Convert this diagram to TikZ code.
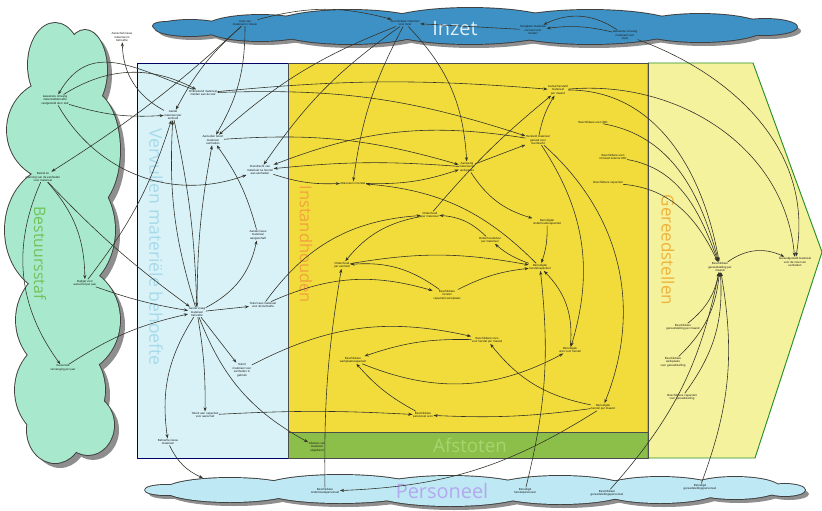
\documentclass[tikz,border=0pt]{standalone}
\usepackage{fontspec}
\setmainfont{Liberation Sans}
\newfontfamily\regiofont{Open Sans}
\usetikzlibrary{arrows.meta}
\definecolor{inzetblauw}{HTML}{3E91C4}
\definecolor{stafgroen}{HTML}{A8E8CC}
\definecolor{vervulblauw}{HTML}{D8F2F8}
\definecolor{instandgeel}{HTML}{F1DC3C}
\definecolor{afstootgroen}{HTML}{8CBF4A}
\definecolor{gereedgeel}{HTML}{F5F29E}
\definecolor{persblauw}{HTML}{BDE8F4}
\definecolor{schaduw}{HTML}{8E8E8E}
\definecolor{lijn}{HTML}{33332A}
\definecolor{tekststaf}{HTML}{72C25C}
\definecolor{tekstvervul}{HTML}{A6DAEA}
\definecolor{tekstinstand}{HTML}{F2A23E}
\definecolor{tekstgereed}{HTML}{EFB23A}
\definecolor{tekstafstoot}{HTML}{A6D46E}
\definecolor{tekstpers}{HTML}{B4A8EE}
\tikzset{
  lbl/.style={font=\fontsize{2.5}{3}\selectfont, align=center, inner sep=0.4pt, text=black!90},
  flow/.style={->, line width=0.5pt, draw=lijn},
  regio/.style={font=\regiofont\fontsize{#1}{#1}\selectfont, inner sep=0pt}
}
\begin{document}
\begin{tikzpicture}[x=0.03cm,y=-0.03cm,line cap=round,line join=round,>={Stealth[length=3.6pt,width=2.6pt]}]
\useasboundingbox (0,0) rectangle (822,511);
\foreach \cx/\cy/\rx/\ry in {55/65/27/42,85/70/22/40,55/130/48/50,88/150/32/60,60/230/55/65,68/320/52/55,60/390/45/50,55/430/28/33,88/425/26/30}
  \fill[schaduw] (\cx+5,\cy+5) ellipse ({\rx} and {\ry});
\foreach \cx/\cy/\rx/\ry in {55/65/27/42,85/70/22/40,55/130/48/50,88/150/32/60,60/230/55/65,68/320/52/55,60/390/45/50,55/430/28/33,88/425/26/30}
  \draw[black!75,line width=1.6pt] (\cx,\cy) ellipse ({\rx} and {\ry});
\foreach \cx/\cy/\rx/\ry in {55/65/27/42,85/70/22/40,55/130/48/50,88/150/32/60,60/230/55/65,68/320/52/55,60/390/45/50,55/430/28/33,88/425/26/30}
  \fill[stafgroen] (\cx,\cy) ellipse ({\rx} and {\ry});
\foreach \cx/\cy/\rx/\ry in {165/26/12/4,190/28/35/8,260/28/55/13,350/27/80/17,470/26/90/18,590/27/90/17,700/28/65/14,765/27/32/8}
  \fill[schaduw] (\cx+4,\cy+4) ellipse ({\rx} and {\ry});
\foreach \cx/\cy/\rx/\ry in {165/26/12/4,190/28/35/8,260/28/55/13,350/27/80/17,470/26/90/18,590/27/90/17,700/28/65/14,765/27/32/8}
  \draw[black!75,line width=1.6pt] (\cx,\cy) ellipse ({\rx} and {\ry});
\foreach \cx/\cy/\rx/\ry in {165/26/12/4,190/28/35/8,260/28/55/13,350/27/80/17,470/26/90/18,590/27/90/17,700/28/65/14,765/27/32/8}
  \fill[inzetblauw] (\cx,\cy) ellipse ({\rx} and {\ry});
\foreach \cx/\cy/\rx/\ry in {165/490/20/5,230/490/65/12,340/489/80/14,450/491/80/15,560/490/70/14,660/490/60/13,735/488/45/11,785/490/20/6}
  \fill[schaduw] (\cx+4,\cy+4) ellipse ({\rx} and {\ry});
\foreach \cx/\cy/\rx/\ry in {165/490/20/5,230/490/65/12,340/489/80/14,450/491/80/15,560/490/70/14,660/490/60/13,735/488/45/11,785/490/20/6}
  \draw[black!75,line width=1.6pt] (\cx,\cy) ellipse ({\rx} and {\ry});
\foreach \cx/\cy/\rx/\ry in {165/490/20/5,230/490/65/12,340/489/80/14,450/491/80/15,560/490/70/14,660/490/60/13,735/488/45/11,785/490/20/6}
  \fill[persblauw] (\cx,\cy) ellipse ({\rx} and {\ry});
\filldraw[fill=vervulblauw,draw=black!60!blue,line width=0.8pt] (137,63) rectangle (288,458);
\filldraw[fill=instandgeel,draw=black!70,line width=0.8pt] (288,63) rectangle (648,432);
\filldraw[fill=afstootgroen,draw=black!70,line width=0.8pt] (288,432) rectangle (648,458);
\filldraw[fill=gereedgeel,draw=black!40!green!70!gray,line width=0.8pt] (648,63) -- (753,63) -- (822,252) -- (755,458) -- (648,458) -- cycle;
\draw[black!70,line width=0.8pt] (648,63) -- (648,458);
\node[regio=17, text=white!85!inzetblauw] (tinzet) at (455,28) {Inzet};
\node[regio=13.5, text=tekststaf, rotate=-90] (tstaf) at (40,253) {Bestuursstaf};
\node[regio=15, text=tekstvervul, rotate=-90] (tvervul) at (156,247) {Vervullen materiële behoefte};
\node[regio=14, text=tekstinstand, rotate=-90] (tinstand) at (306,244) {Instandhouden};
\node[regio=14.5, text=tekstgereed, rotate=-90] (tgereed) at (668,250) {Gereedstellen};
\node[regio=16, text=tekstafstoot] (tafstoot) at (470,445) {Afstoten};
\node[regio=17, text=tekstpers] (tpers) at (442,491) {Personeel};
\node[lbl] (top1) at (122,37) {Aanschaf nieuw\\materieel in\\behoefte};
\node[lbl] (inz1) at (245,23) {Inzet van\\materieel in missie};
\node[lbl] (inz2) at (405,23) {Beschikbaar materieel\\voor inzet};
\node[lbl] (inz3) at (533,30) {Terugkeer materieel\\na inzet voor\\herstel};
\node[lbl] (inz4) at (625,35) {Gewenste omvang\\materieel voor\\inzet};
\node[lbl] (bst1) at (55,100) {Gewenste omvang\\materieelbehoefte\\vastgesteld door staf};
\node[lbl] (bst2) at (43,177) {Beleid en\\planning van de eenheden\\voor materieel};
\node[lbl] (bst3) at (85,283) {Budget voor\\aanschaf per jaar};
\node[lbl] (bst4) at (63,368) {Gewenste\\vervanging per jaar};
\node[lbl] (vmb1) at (203,93) {Ontbrekend materieel\\melden aan de staf};
\node[lbl] (vmb2) at (173,115) {Aantal\\materieel per\\eenheid};
\node[lbl] (vmb3) at (213,140) {Aanvullen tekort\\materieel\\eenheden};
\node[lbl] (vmb4) at (260,170) {Overdracht van\\materieel na herstel\\aan eenheden};
\node[lbl] (vmb5) at (258,235) {Aantal nieuw\\materieel\\aangeschaft};
\node[lbl] (vmb6) at (197,312) {Aantal vraag\\materieel\\behoefte};
\node[lbl] (vmb7) at (263,305) {Tekort aan materieel\\voor de behoefte};
\node[lbl] (vmb8) at (242,370) {Tekort\\materieel voor\\eenheden in\\gebruik};
\node[lbl] (vmb9) at (205,415) {Tekort aan capaciteit\\voor aanschaf};
\node[lbl] (vmb10) at (168,442) {Behoefte nieuw\\materieel};
\node[lbl] (afs1) at (317,447) {Afstoten van\\materieel\\uitgediend};
\node[lbl] (ins1) at (353,183) {Materieel in herstel};
\node[lbl] (ins2) at (467,167) {Aanwezig\\materieel in\\werkplaats};
\node[lbl] (ins3) at (538,140) {Hersteld materieel\\gereed voor\\overdracht};
\node[lbl] (ins4) at (558,90) {Aantal hersteld\\materieel\\per maand};
\node[lbl] (ins5) at (593,122) {Beschikbare uren IOD};
\node[lbl] (ins6) at (613,157) {Beschikbare uren\\inclusief externe IOD};
\node[lbl] (ins7) at (608,183) {Beschikbare capaciteit};
\node[lbl] (ins8) at (430,215) {Onderhoud\\per materieel};
\node[lbl] (ins9) at (547,222) {Benodigde\\onderhoudscapaciteit};
\node[lbl] (ins10) at (490,240) {Onderhoudsduur\\per materieel};
\node[lbl] (ins11) at (540,267) {Benodigde\\herstelcapaciteit};
\node[lbl] (ins12) at (447,295) {Beschikbare\\herstel\\capaciteit werkplaats};
\node[lbl] (ins13) at (342,265) {Onderhoud\\per eenheid};
\node[lbl] (ins14) at (487,340) {Beschikbare uren\\voor herstel per maand};
\node[lbl] (ins15) at (570,350) {Benodigde\\uren voor herstel};
\node[lbl] (ins16) at (353,360) {Beschikbare\\werkplaatscapaciteit};
\node[lbl] (ins17) at (603,407) {Benodigde\\herstel per maand};
\node[lbl] (ins18) at (423,415) {Beschikbare\\personeel uren};
\node[lbl] (gst1) at (720,267) {Beschikbare\\gereedstelling per\\maand};
\node[lbl] (gst2) at (795,262) {Gereedgesteld materieel\\voor de inzet van\\eenheden};
\node[lbl] (gst3) at (683,327) {Beschikbare\\gereedstelling per maand};
\node[lbl] (gst4) at (673,362) {Beschikbare\\werkplaats\\voor gereedstelling};
\node[lbl] (gst5) at (682,397) {Beschikbare capaciteit\\voor gereedstelling};
\node[lbl] (per1) at (325,491) {Beschikbare\\onderhoudspersoneel};
\node[lbl] (per2) at (525,491) {Benodigd\\herstelpersoneel};
\node[lbl] (per3) at (607,493) {Beschikbaar\\gereedstellingspersoneel};
\node[lbl] (per4) at (700,487) {Benodigd\\gereedstellingspersoneel};
\coordinate (persrand) at (203,478);
\draw[flow] (inz1) to[bend left=15] (inz2);
\draw[flow] (inz3) -- (inz2);
\draw[flow] (inz4) to[bend right=10] (inz3);
\draw[flow] (inz4) to[bend right=30] (inz3);
\draw[flow] (inz4) to[out=-20,in=80] (gst2);
\draw[flow] (inz2) to[bend right=10] (vmb3);
\draw[flow] (inz1) to[bend right=10] (vmb2);
\draw[flow] (inz1) to[out=-90,in=60] (vmb3);
\draw[flow] (inz2) to[bend right=10] (vmb4);
\draw[flow] (inz2) to[bend right=10] (ins1);
\draw[flow] (inz2) to[bend left=20] (ins2);
\draw[flow] (vmb2) to[bend left=30] (top1);
\draw[flow] (bst1) to[bend left=30] (vmb1);
\draw[flow] (vmb1) to[out=160,in=60,looseness=1.2] (bst1);
\draw[flow] (bst1) to[bend right=10] (vmb2);
\draw[flow] (inz1) to[bend left=5] (bst2);
\draw[flow] (bst1) to[out=-60,in=200] (vmb4);
\draw[flow] (bst2) to[bend right=5] (vmb6);
\draw[flow] (bst2) to[bend left=20] (bst3);
\draw[flow] (bst2) to[bend right=30] (bst4);
\draw[flow] (bst3) to[bend right=10] (vmb2);
\draw[flow] (bst3) to[bend right=5] (vmb6);
\draw[flow] (bst4) to[bend left=10] (vmb6);
\draw[flow] (vmb2) to[bend left=5] (vmb6);
\draw[flow] (vmb6) to[bend left=10] (vmb2);
\draw[flow] (vmb6) to[bend left=5] (vmb3);
\draw[flow] (vmb5) to[bend right=10] (vmb3);
\draw[flow] (vmb6) to[bend right=25] (vmb5);
\draw[flow] (vmb6) -- (vmb7);
\draw[flow] (vmb6) -- (vmb8);
\draw[flow] (vmb6) to[bend left=5] (vmb9);
\draw[flow] (vmb6) to[bend right=20] (vmb10);
\draw[flow] (vmb6) to[bend right=20] (afs1);
\draw[flow] (vmb10) to[bend right=20] (persrand);
\draw[flow] (vmb1) to[bend left=5] (ins4);
\draw[flow] (vmb1) to[bend left=10] (ins3);
\draw[flow] (vmb3) to[bend left=10] (ins2);
\draw[flow] (ins2) to[bend right=5] (vmb4);
\draw[flow] (ins3) to[bend right=15] (vmb4);
\draw[flow] (vmb4) to[bend right=10] (ins1);
\draw[flow] (vmb7) to[bend left=25] (ins8);
\draw[flow] (vmb7) to[bend left=20] (ins12);
\draw[flow] (vmb8) to[bend left=20] (ins14);
\draw[flow] (vmb9) to[bend left=3] (ins18);
\draw[flow] (ins11) to[bend right=20] (ins1);
\draw[flow] (ins1) to[bend right=10] (ins2);
\draw[flow] (ins2) -- (ins3);
\draw[flow] (ins3) to[bend left=10] (ins4);
\draw[flow] (ins8) to[bend left=5] (ins4);
\draw[flow] (ins3) to[bend left=35] (ins17);
\draw[flow] (ins3) to[bend left=25] (ins15);
\draw[flow] (ins2) to[bend right=20] (ins9);
\draw[flow] (ins9) to[bend left=10] (ins11);
\draw[flow] (ins11) to[bend left=10] (ins10);
\draw[flow] (ins10) to[bend right=20] (ins8);
\draw[flow] (ins8) to[bend right=20] (ins13);
\draw[flow] (ins12) to[bend right=20] (ins13);
\draw[flow] (ins12) to[bend left=10] (ins11);
\draw[flow] (ins13) to[bend left=10] (ins11);
\draw[flow] (ins15) to[bend right=25] (ins11);
\draw[flow] (ins16) to[bend right=25] (ins15);
\draw[flow] (ins14) to[bend right=10] (ins16);
\draw[flow] (ins18) to[bend left=10] (ins16);
\draw[flow] (ins17) to[bend left=20] (ins14);
\draw[flow] (ins17) to[bend left=5] (ins18);
\draw[flow] (ins17) to[bend left=15] (per1);
\draw[flow] (per1) to[bend left=5] (ins13);
\draw[flow] (per2) to[bend right=10] (ins11);
\draw[flow] (ins4) to[out=0,in=100] (gst1);
\draw[flow] (ins5) to[out=-10,in=105] (gst1);
\draw[flow] (ins6) to[out=-10,in=110] (gst1);
\draw[flow] (ins7) to[out=-5,in=115] (gst1);
\draw[flow] (ins4) to[out=5,in=95] (gst2);
\draw[flow] (gst1) to[bend left=30] (gst2);
\draw[flow] (gst3) to[bend right=20] (gst1);
\draw[flow] (gst4) to[bend right=20] (gst1);
\draw[flow] (gst5) to[bend right=20] (gst1);
\draw[flow] (per3) to[bend right=15] (gst1);
\draw[flow] (per4) to[bend right=15] (gst1);
\end{tikzpicture}
\end{document}
